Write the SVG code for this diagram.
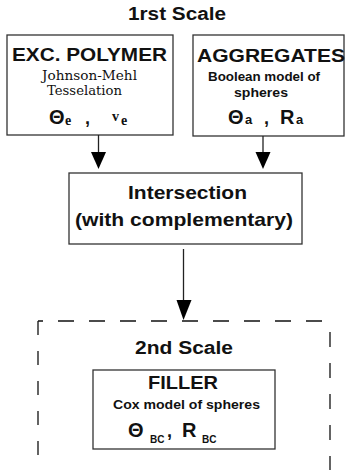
<svg xmlns="http://www.w3.org/2000/svg" width="346" height="470" viewBox="0 0 346 470">
  <style>
    .box { fill: #ffffff; stroke: #333333; stroke-width: 1.3; }
    .dash { fill: none; stroke: #111111; stroke-width: 1.3; }
    .line { stroke: #222222; stroke-width: 1.3; fill: none; }
    .head { fill: #000000; }
    .t { font-family: "Liberation Sans", Arial, sans-serif; font-weight: bold; fill: #111111; }
    .s { font-family: "DejaVu Serif", "Liberation Serif", serif; fill: #111111; }
    .sb { font-family: "Liberation Serif", serif; font-weight: bold; fill: #111111; }
  </style>
  <rect width="346" height="470" fill="#ffffff"/>

  <g id="title1">
    <text class="t" x="128" y="20" font-size="17.5" textLength="98" lengthAdjust="spacingAndGlyphs">1rst Scale</text>
  </g>

  <g id="excpolymer">
    <rect class="box" x="7" y="35" width="166" height="100"/>
    <text class="t" x="12" y="61" font-size="18.5" textLength="155" lengthAdjust="spacingAndGlyphs">EXC. POLYMER</text>
    <text class="s" x="42" y="80" font-size="12.5" textLength="95" lengthAdjust="spacingAndGlyphs">Johnson-Mehl</text>
    <text class="s" x="47" y="95" font-size="12.5" textLength="75" lengthAdjust="spacingAndGlyphs">Tesselation</text>
    <text class="t" x="49" y="124" font-size="20">Θ</text>
    <text class="sb" x="65" y="125" font-size="14">e</text>
    <text class="t" x="85" y="124" font-size="18">,</text>
    <text class="sb" x="112" y="121" font-size="14">v</text>
    <text class="sb" x="121" y="125" font-size="14">e</text>
  </g>

  <g id="aggregates">
    <rect class="box" x="193" y="35" width="151" height="101"/>
    <text class="t" x="197" y="62" font-size="18.5" textLength="148" lengthAdjust="spacingAndGlyphs">AGGREGATES</text>
    <text class="t" x="208" y="81" font-size="13" textLength="112" lengthAdjust="spacingAndGlyphs">Boolean model of</text>
    <text class="t" x="234" y="97" font-size="13" textLength="54" lengthAdjust="spacingAndGlyphs">spheres</text>
    <text class="t" x="228" y="124" font-size="20">Θ</text>
    <text class="t" x="245" y="124" font-size="13">a</text>
    <text class="t" x="264" y="124" font-size="18">,</text>
    <text class="t" x="280" y="124" font-size="20">R</text>
    <text class="t" x="296" y="124" font-size="13">a</text>
  </g>

  <g id="intersection">
    <rect class="box" x="69" y="173" width="233" height="71"/>
    <text class="t" x="128" y="199" font-size="19" textLength="119" lengthAdjust="spacingAndGlyphs">Intersection</text>
    <text class="t" x="75" y="226" font-size="19" textLength="218" lengthAdjust="spacingAndGlyphs">(with complementary)</text>
  </g>

  <g id="secondscale">
    <path class="dash" d="M38,321 V470" stroke-dasharray="14 16"/>
    <path class="dash" d="M38,321 H330" stroke-dasharray="16 15" stroke-dashoffset="11"/>
    <path class="dash" d="M330,332 V470" stroke-dasharray="15 16"/>
    <text class="t" x="135" y="354" font-size="17.5" textLength="98" lengthAdjust="spacingAndGlyphs">2nd Scale</text>
  </g>

  <g id="filler">
    <rect class="box" x="93" y="370" width="182" height="79"/>
    <text class="t" x="148" y="389" font-size="17.5" textLength="70" lengthAdjust="spacingAndGlyphs">FILLER</text>
    <text class="t" x="113" y="409" font-size="12.5" textLength="147" lengthAdjust="spacingAndGlyphs">Cox model of spheres</text>
    <text class="t" x="128" y="437" font-size="20">Θ</text>
    <text class="t" x="150" y="443" font-size="10">BC</text>
    <text class="t" x="167" y="437" font-size="18">,</text>
    <text class="t" x="182" y="437" font-size="20">R</text>
    <text class="t" x="202" y="443" font-size="10">BC</text>
  </g>

  <g id="connectors">
    <line class="line" x1="98.5" y1="135" x2="98.5" y2="153"/>
    <polygon class="head" points="91,152 106,152 98.5,169"/>
    <line class="line" x1="263" y1="136" x2="263" y2="153"/>
    <polygon class="head" points="255.5,152 270.5,152 263,169"/>
    <line class="line" x1="183.5" y1="249" x2="183.5" y2="301"/>
    <polygon class="head" points="176.5,300 191.5,300 183.5,320"/>
  </g>
</svg>
